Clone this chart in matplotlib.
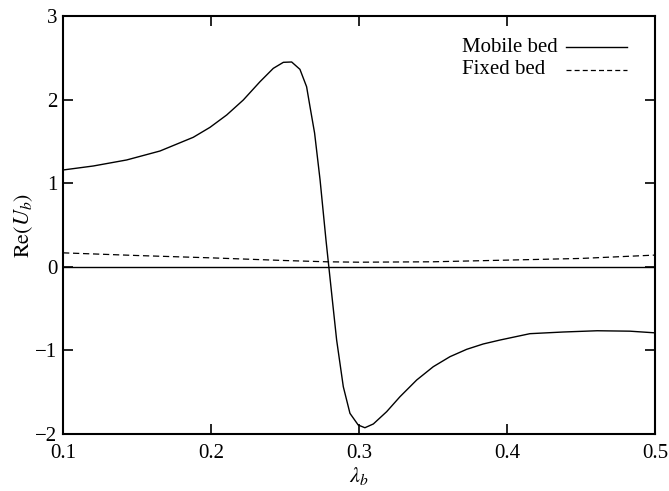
import matplotlib
matplotlib.use("Agg")
import matplotlib.pyplot as plt

# values
lam_mobile = [0.100, 0.1205, 0.143, 0.1655, 0.188, 0.1993, 0.2106, 0.2218, 0.2331, 0.2421,
              0.2489, 0.2545, 0.2601, 0.2646, 0.2669, 0.270, 0.2737, 0.2777, 0.282, 0.2849,
              0.2894, 0.2939, 0.2995, 0.304, 0.3097, 0.3187, 0.3277, 0.339, 0.3502, 0.3615,
              0.3728, 0.384, 0.3953, 0.4155, 0.438, 0.461, 0.483, 0.500]
re_mobile = [1.158, 1.206, 1.278, 1.385, 1.549, 1.668, 1.816, 1.995, 2.214, 2.374,
             2.446, 2.450, 2.362, 2.154, 1.915, 1.60, 1.04, 0.32, -0.397, -0.876,
             -1.434, -1.753, -1.893, -1.925, -1.880, -1.733, -1.554, -1.354, -1.195, -1.075,
             -0.987, -0.923, -0.876, -0.80, -0.78, -0.765, -0.77, -0.79]

lam_fixed = [0.10, 0.15, 0.20, 0.25, 0.278, 0.30, 0.35, 0.40, 0.45, 0.50]
re_fixed = [0.167, 0.135, 0.107, 0.075, 0.060, 0.055, 0.060, 0.080, 0.100, 0.140]

x_ticks = [0.1, 0.2, 0.3, 0.4, 0.5]
y_ticks = [-2, -1, 0, 1, 2, 3]
legend_labels = ['Mobile bed', 'Fixed bed']

plt.rcParams['font.family'] = ['Liberation Serif', 'DejaVu Serif']
plt.rcParams['mathtext.fontset'] = 'stix'
plt.rcParams['font.size'] = 15

fig, ax = plt.subplots(figsize=(6.69, 4.91), dpi=100)
fig.subplots_adjust(left=0.0942, right=0.979, top=0.9674, bottom=0.1161)

ax.plot(lam_mobile, re_mobile, color='black', lw=1.0)
ax.plot(lam_fixed, re_fixed, color='black', lw=0.9, dashes=(5, 3))
ax.axhline(0, color='black', lw=1.0)

ax.set_xlim(0.1, 0.5)
ax.set_ylim(-2, 3)
ax.set_xticks(x_ticks)
ax.set_yticks(y_ticks)
ax.set_xticklabels([f"{t:.1f}" for t in x_ticks])
ax.set_yticklabels(["\u2212" + str(-t) if t < 0 else str(t) for t in y_ticks])
ax.tick_params(direction='in', length=7, width=1.2, top=True, right=True, pad=4)
ax.tick_params(axis='x', pad=7)
for s in ax.spines.values():
    s.set_linewidth(1.5)

ax.set_xlabel(r'$\lambda_b$', fontsize=16, labelpad=2)
ax.set_ylabel(r'$\mathrm{Re}(U_b)$', fontsize=16, labelpad=0)

# legend: text left-aligned, line sample on the right
tr = ax.transAxes
for i, (lab, style) in enumerate(zip(legend_labels, ['-', '--'])):
    yy = 0.925 - i * 0.053
    ax.text(0.674, yy, lab, transform=tr, ha='left', va='center')
    if style == '-':
        ax.plot([0.850, 0.953], [yy, yy], transform=tr, color='black', lw=1.0)
    else:
        ax.plot([0.850, 0.953], [yy, yy], transform=tr, color='black', lw=0.9, dashes=(4, 2.5))

fig.savefig('out.png', dpi=100)
